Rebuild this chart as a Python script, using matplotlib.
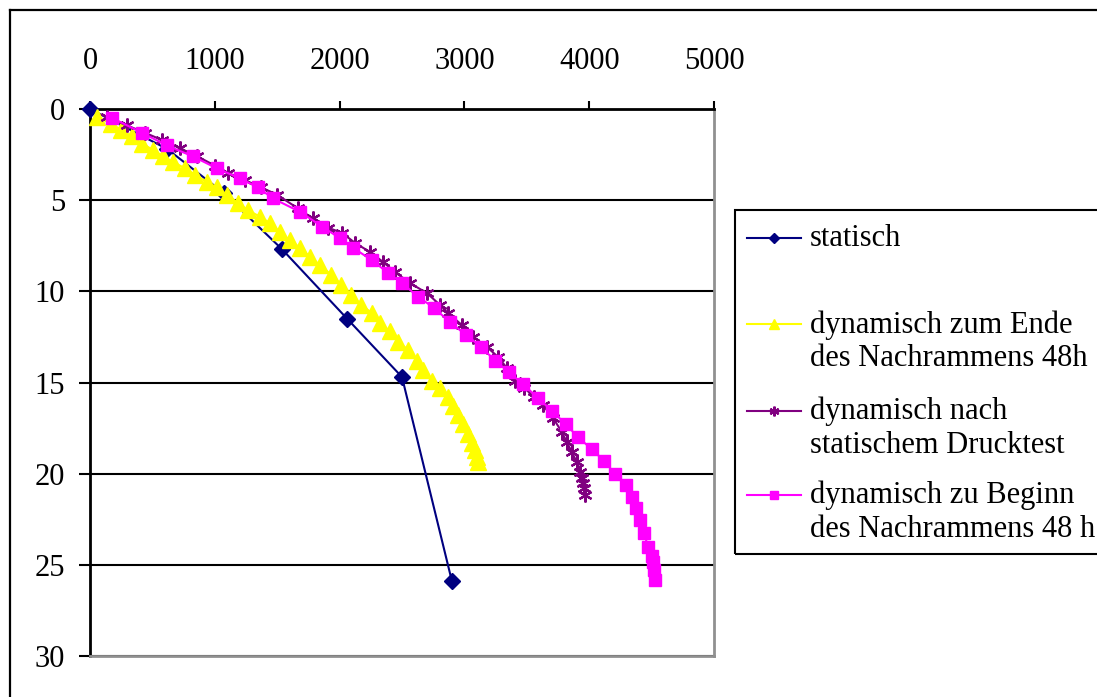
import matplotlib
matplotlib.use("Agg")
import matplotlib.pyplot as plt
from matplotlib.lines import Line2D
from matplotlib.patches import Rectangle

W, H = 1097, 697
plt.rcParams['font.family'] = ['Liberation Serif', 'DejaVu Serif']

# force (x) vs depth (y)
stat_x = [0, 620, 1070, 1540, 2060, 2500, 2900]
stat_y = [0, 2.2, 4.6, 7.7, 11.5, 14.7, 25.9]

end_x = [60, 170, 250, 335, 420, 505, 585, 665, 760, 840, 935, 1015, 1095, 1185, 1265,
         1360, 1440, 1520, 1600, 1680, 1760, 1840, 1935, 2015, 2095, 2175, 2260, 2325,
         2405, 2470, 2550, 2620, 2670, 2740, 2805, 2865, 2905, 2950, 2990, 3030, 3060,
         3085, 3100, 3110]
end_y = [0.45, 0.8, 1.15, 1.5, 1.9, 2.25, 2.6, 2.9, 3.25, 3.6, 4.0, 4.3, 4.7, 5.15, 5.55,
         5.9, 6.25, 6.75, 7.2, 7.6, 8.1, 8.55, 9.1, 9.65, 10.2, 10.75, 11.2, 11.75, 12.2,
         12.8, 13.2, 13.8, 14.3, 14.9, 15.3, 15.8, 16.3, 16.8, 17.3, 17.8, 18.3, 18.7,
         19.1, 19.35]

after_x = [135, 295, 440, 575, 720, 860, 1000, 1105, 1240, 1370, 1500, 1665, 1785, 1905,
           2020, 2125, 2245, 2350, 2445, 2565, 2700, 2805, 2870, 2980, 3070, 3180, 3270,
           3340, 3405, 3480, 3560, 3630, 3710, 3780, 3820, 3860, 3900, 3925, 3940, 3950,
           3958, 3965]
after_y = [0.45, 0.9, 1.3, 1.7, 2.15, 2.6, 3.1, 3.5, 3.9, 4.3, 4.7, 5.45, 6.0, 6.5, 6.8,
           7.35, 7.85, 8.4, 8.95, 9.55, 10.1, 10.75, 11.2, 11.85, 12.5, 13.05, 13.6, 14.2,
           14.9, 15.3, 15.8, 16.25, 16.95, 17.7, 18.25, 18.8, 19.35, 19.9, 20.25, 20.5,
           20.8, 21.15]

begin_x = [180, 415, 615, 825, 1015, 1200, 1345, 1465, 1685, 1860, 2005, 2105, 2260, 2390,
           2500, 2630, 2755, 2885, 3015, 3135, 3245, 3360, 3470, 3590, 3700, 3815, 3910,
           4020, 4120, 4205, 4295, 4345, 4375, 4405, 4440, 4470, 4500, 4510, 4520, 4525]
begin_y = [0.5, 1.3, 2.0, 2.6, 3.25, 3.8, 4.3, 4.9, 5.65, 6.45, 7.1, 7.6, 8.3, 9.0, 9.55,
           10.3, 10.9, 11.7, 12.4, 13.05, 13.8, 14.45, 15.1, 15.85, 16.55, 17.3, 18.0,
           18.65, 19.3, 20.0, 20.6, 21.3, 21.9, 22.55, 23.25, 24.0, 24.5, 24.85, 25.3, 25.85]

labels = ["statisch",
          "dynamisch zum Ende\ndes Nachrammens 48h",
          "dynamisch nach\nstatischem Drucktest",
          "dynamisch zu Beginn\ndes Nachrammens 48 h"]

styles = [dict(color='#000080', marker='D', ms=8, mfc='#000080', mec='#000080', lw=1.5),
          dict(color='#FFFF00', marker='^', ms=11, mfc='#FFFF00', mec='#FFFF00', lw=1.5),
          dict(color='#800080', marker=(6, 2, 0), ms=10, mfc='#800080', mec='#800080', lw=1.5, mew=1.6),
          dict(color='#FF00FF', marker='s', ms=9, mfc='#FF00FF', mec='#FF00FF', lw=1.5)]


def fx(x):
    return x / W


def fy(y):
    return 1 - y / H


fig = plt.figure(figsize=(W / 100, H / 100), dpi=100)
ax = fig.add_axes([fx(90), fy(656), fx(714) - fx(90), fy(109) - fy(656)])

series = [(stat_x, stat_y), (end_x, end_y), (after_x, after_y), (begin_x, begin_y)]
# draw order: yellow, magenta, purple, blue on top
for i in [1, 3, 2, 0]:
    xs, ys = series[i]
    ax.plot(xs, ys, clip_on=False, zorder=3 + i * 0.1, **styles[i])

ax.set_xlim(0, 5000)
ax.set_ylim(30, 0)
ax.set_xticks(range(0, 5001, 1000))
ax.set_yticks(range(0, 31, 5))
ax.xaxis.tick_top()
ax.tick_params(axis='x', direction='out', length=6, width=1.5, pad=18, labelsize=22)
ax.tick_params(axis='y', direction='out', length=8, width=1.5, pad=10, labelsize=22)
ax.yaxis.grid(True, color='black', lw=1.5)
ax.set_axisbelow(True)
for s in ['top', 'left']:
    ax.spines[s].set_color('black')
    ax.spines[s].set_linewidth(2)
for s in ['bottom', 'right']:
    ax.spines[s].set_color('#909090')
    ax.spines[s].set_linewidth(2)

# outer chart border (left and top visible)
fig.add_artist(Line2D([fx(10), fx(10)], [fy(10), 0], transform=fig.transFigure, color='black', lw=1.6))
fig.add_artist(Line2D([fx(10), 1], [fy(10), fy(10)], transform=fig.transFigure, color='black', lw=1.6))

# legend box
fig.add_artist(Rectangle((fx(735), fy(554)), fx(1120) - fx(735), fy(210) - fy(554),
                         transform=fig.transFigure, fill=False, ec='black', lw=1.5))
rows = [238, 324, 411, 495]
for lab, st, yr in zip(labels, styles, rows):
    fig.add_artist(Line2D([fx(747), fx(801)], [fy(yr), fy(yr)], transform=fig.transFigure,
                          color=st['color'], lw=st['lw']))
    mk = {k: v for k, v in st.items() if k in ('marker', 'mfc', 'mec', 'mew')}
    fig.add_artist(Line2D([fx(774)], [fy(yr)], transform=fig.transFigure, ls='none',
                          ms=st['ms'] * 0.7, **mk))
    fig.text(fx(810), fy(yr - 14), lab, fontsize=22, va='top', ha='left', linespacing=1.2)

fig.savefig("out.png", dpi=100)
